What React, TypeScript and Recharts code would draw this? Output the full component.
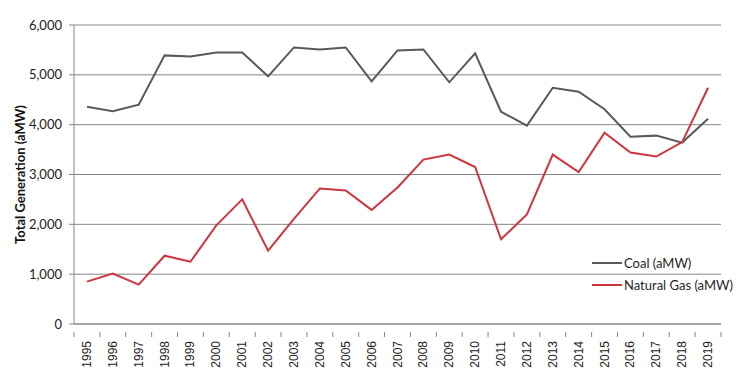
import { CartesianGrid, Line, LineChart, XAxis, YAxis } from "recharts";

const years = [
  "1995", "1996", "1997", "1998", "1999", "2000", "2001", "2002", "2003", "2004", "2005", "2006", "2007",
  "2008", "2009", "2010", "2011", "2012", "2013", "2014", "2015", "2016", "2017", "2018", "2019"
];

const coal = [
  4360, 4270, 4400, 5390, 5370, 5450, 5450, 4970, 5550, 5510, 5550, 4870, 5490,
  5510, 4850, 5430, 4260, 3980, 4740, 4660, 4310, 3760, 3780, 3640, 4120
];

const naturalGas = [
  850, 1010, 790, 1370, 1250, 1980, 2500, 1470, 2110, 2720, 2680, 2290, 2740,
  3300, 3400, 3150, 1700, 2200, 3400, 3050, 3840, 3440, 3360, 3650, 4740
];

const yTicks = [0, 1000, 2000, 3000, 4000, 5000, 6000];

const series = [
  { key: "coal", label: "Coal (aMW)", color: "#595959" },
  { key: "gas", label: "Natural Gas (aMW)", color: "#cf3441" }
];

const data = years.map((year, i) => ({ idx: i, year, coal: coal[i], gas: naturalGas[i] }));

const axisGray = "#868686";
const plotWidth = 647;
const step = plotWidth / years.length;

function YearTick(props: any) {
  const { x, y, payload, index } = props;
  const left = x - step / 2;
  return (
    <g>
      <line x1={left} y1={y} x2={left} y2={y + 5} stroke={axisGray} />
      {index === years.length - 1 && <line x1={x + step / 2} y1={y} x2={x + step / 2} y2={y + 5} stroke={axisGray} />}
      <text
        x={x + 4}
        y={y + 9}
        transform={`rotate(-90 ${x + 4} ${y + 9})`}
        textAnchor="end"
        fill="#222"
        fontSize={12}
        fontFamily="Liberation Sans, Arial, sans-serif"
      >
        {years[payload.value]}
      </text>
    </g>
  );
}

function LegendBox() {
  return (
    <div
      style={{
        position: "absolute",
        left: 592,
        top: 252,
        fontFamily: "Lato, sans-serif",
        fontSize: 13,
        color: "#262626"
      }}
    >
      {series.map((item) => (
        <div key={item.key} style={{ display: "flex", alignItems: "center", height: 22 }}>
          <span style={{ display: "inline-block", width: 30, height: 2, background: item.color, marginRight: 2 }} />
          <span>{item.label}</span>
        </div>
      ))}
    </div>
  );
}

export default function App() {
  return (
    <div style={{ position: "absolute", left: 0, top: 0, width: 749, height: 370, background: "#fff" }}>
      <LineChart width={749} height={370} data={data} margin={{ top: 25, right: 28, bottom: 0, left: 0 }}>
        <CartesianGrid vertical={false} stroke={axisGray} />
        <XAxis
          dataKey="idx"
          type="number"
          domain={[-0.5, years.length - 0.5]}
          ticks={years.map((_, i) => i)}
          interval={0}
          height={46}
          axisLine={{ stroke: axisGray }}
          tickLine={false}
          tick={<YearTick />}
        />
        <YAxis
          domain={[0, 6000]}
          ticks={yTicks}
          width={74}
          axisLine={{ stroke: axisGray }}
          tickLine={{ stroke: axisGray }}
          tickSize={5}
          tickMargin={7}
          tickFormatter={(v: number) => v.toLocaleString("en-US")}
          tick={{ fill: "#222", fontSize: 13, fontFamily: "Lato, sans-serif" }}
          label={{
            value: "Total Generation (aMW)",
            angle: -90,
            position: "insideLeft",
            offset: 20,
            style: { textAnchor: "middle", fontFamily: "Lato, sans-serif", fontSize: 13, fontWeight: 700, fill: "#111" }
          }}
        />
        {series.map((item) => (
          <Line
            key={item.key}
            dataKey={item.key}
            name={item.label}
            type="linear"
            stroke={item.color}
            strokeWidth={2}
            dot={false}
            isAnimationActive={false}
          />
        ))}
      </LineChart>
      <LegendBox />
    </div>
  );
}
